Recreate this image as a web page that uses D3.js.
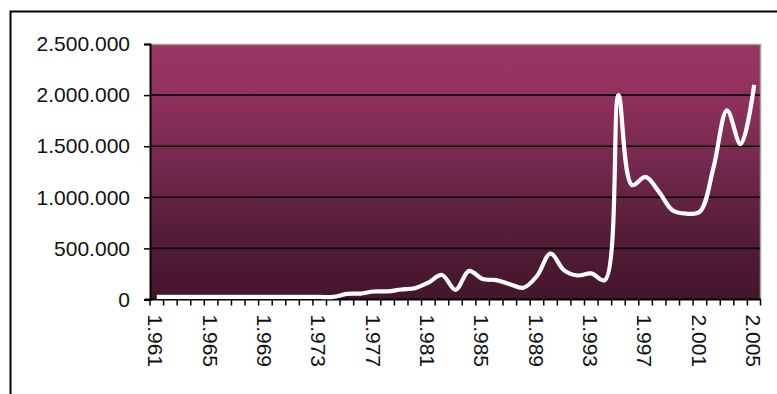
<!DOCTYPE html>
<html>
<head>
<meta charset="utf-8">
<script src="https://cdn.jsdelivr.net/npm/d3@7"></script>
<style>
  html, body { margin: 0; padding: 0; background: #fff; }
  svg { display: block; }
</style>
</head>
<body>
<svg id="chart" width="777" height="394"></svg>
<script>
// Yearly values, 1961–2005
const years = d3.range(1961, 2006);
const values = [
  25000, 25000, 25000, 25000, 25000, 25000, 25000, 25000, 25000, 25000,
  25000, 25000, 25000, 25000, 55000, 58000, 78000, 80000, 98000, 110000,
  165000, 240000, 95000, 280000, 200000, 190000, 150000, 115000, 230000, 450000,
  285000, 235000, 255000, 190000, 2000000, 1120000, 1200000, 1050000, 870000, 840000,
  860000, 1290000, 1850000, 1520000, 2100000
];
const yTicks = [0, 500000, 1000000, 1500000, 2000000, 2500000];
const labelYears = [1961, 1965, 1969, 1973, 1977, 1981, 1985, 1989, 1993, 1997, 2001, 2005];

const svg = d3.select("#chart");
const W = 777, H = 394;
const m = { left: 150, top: 44, right: 761, bottom: 299.5 };

// Outer chart frame (top and left edges are in view)
svg.append("rect")
  .attr("x", 10.5).attr("y", 11.5)
  .attr("width", W + 20).attr("height", H + 20)
  .attr("fill", "#fff").attr("stroke", "#000").attr("stroke-width", 2);

const x = d3.scaleBand().domain(years).range([m.left, m.right]).paddingInner(0).paddingOuter(0);
const y = d3.scaleLinear().domain([0, 2500000]).range([m.bottom, m.top]);

// Plot background gradient
const defs = svg.append("defs");
const grad = defs.append("linearGradient")
  .attr("id", "plotFill").attr("x1", 0).attr("y1", 0).attr("x2", 0).attr("y2", 1);
[[0, "#993463"], [0.12, "#973362"], [0.45, "#76294f"], [0.75, "#541c37"], [1, "#43162c"]]
  .forEach(([o, c]) => grad.append("stop").attr("offset", o).attr("stop-color", c));

svg.append("rect")
  .attr("x", m.left).attr("y", m.top)
  .attr("width", m.right - m.left).attr("height", m.bottom - m.top)
  .attr("fill", "url(#plotFill)");

// Plot border top/right
svg.append("path")
  .attr("d", `M${m.left},${m.top + 0.5}H${m.right - 0.5}V${m.bottom}`)
  .attr("fill", "none").attr("stroke", "#a0a0a0").attr("stroke-width", 1.5);

// Horizontal gridlines
svg.append("g").selectAll("line")
  .data(yTicks.filter(d => d > 0 && d < 2500000))
  .join("line")
  .attr("x1", m.left).attr("x2", m.right - 1)
  .attr("y1", d => y(d)).attr("y2", d => y(d))
  .attr("stroke", "#0a0306").attr("stroke-width", 1.6);

// Y axis
const yAxis = d3.axisLeft(y)
  .tickValues(yTicks)
  .tickSize(6)
  .tickPadding(14)
  .tickFormat(d => d3.format(",")(d).replace(/,/g, "."));
const gy = svg.append("g").attr("transform", `translate(${m.left},0)`).call(yAxis);
gy.select(".domain").attr("stroke", "#000").attr("stroke-width", 2);
gy.selectAll(".tick line").attr("stroke", "#000").attr("stroke-width", 1.5);
gy.selectAll(".tick text")
  .attr("font-family", "Liberation Sans, Arial, sans-serif")
  .attr("font-size", 21).attr("fill", "#111");

// X axis: ticks on category boundaries, labels every fourth year
const gx = svg.append("g").attr("transform", `translate(0,${m.bottom})`);
gx.append("line")
  .attr("x1", m.left - 5).attr("x2", m.right)
  .attr("stroke", "#000").attr("stroke-width", 2);
const edges = years.map(d => x(d)).concat([m.right - 0.5]);
gx.selectAll(".xt").data(edges).join("line")
  .attr("class", "xt")
  .attr("x1", d => d).attr("x2", d => d)
  .attr("y1", 0).attr("y2", 6)
  .attr("stroke", "#000").attr("stroke-width", 1.5);
gx.selectAll(".xl").data(labelYears).join("text")
  .attr("class", "xl")
  .attr("transform", d => `translate(${x(d) + x.bandwidth() / 2 - 1},${15}) rotate(90)`)
  .attr("dy", "0.35em")
  .attr("text-anchor", "start")
  .attr("font-family", "Liberation Sans, Arial, sans-serif")
  .attr("font-size", 21).attr("fill", "#111")
  .text(d => d3.format(",")(d).replace(/,/g, "."));

// Smoothed series line (centripetal Catmull-Rom spline)
const line = d3.line()
  .x((d, i) => x(years[i]) + x.bandwidth() / 2)
  .y(d => y(d))
  .curve(d3.curveCatmullRom.alpha(0.5));
svg.append("path")
  .datum(values)
  .attr("d", line)
  .attr("fill", "none")
  .attr("stroke", "#fff")
  .attr("stroke-width", 4.2)
  .attr("stroke-linejoin", "round");
</script>
</body>
</html>
